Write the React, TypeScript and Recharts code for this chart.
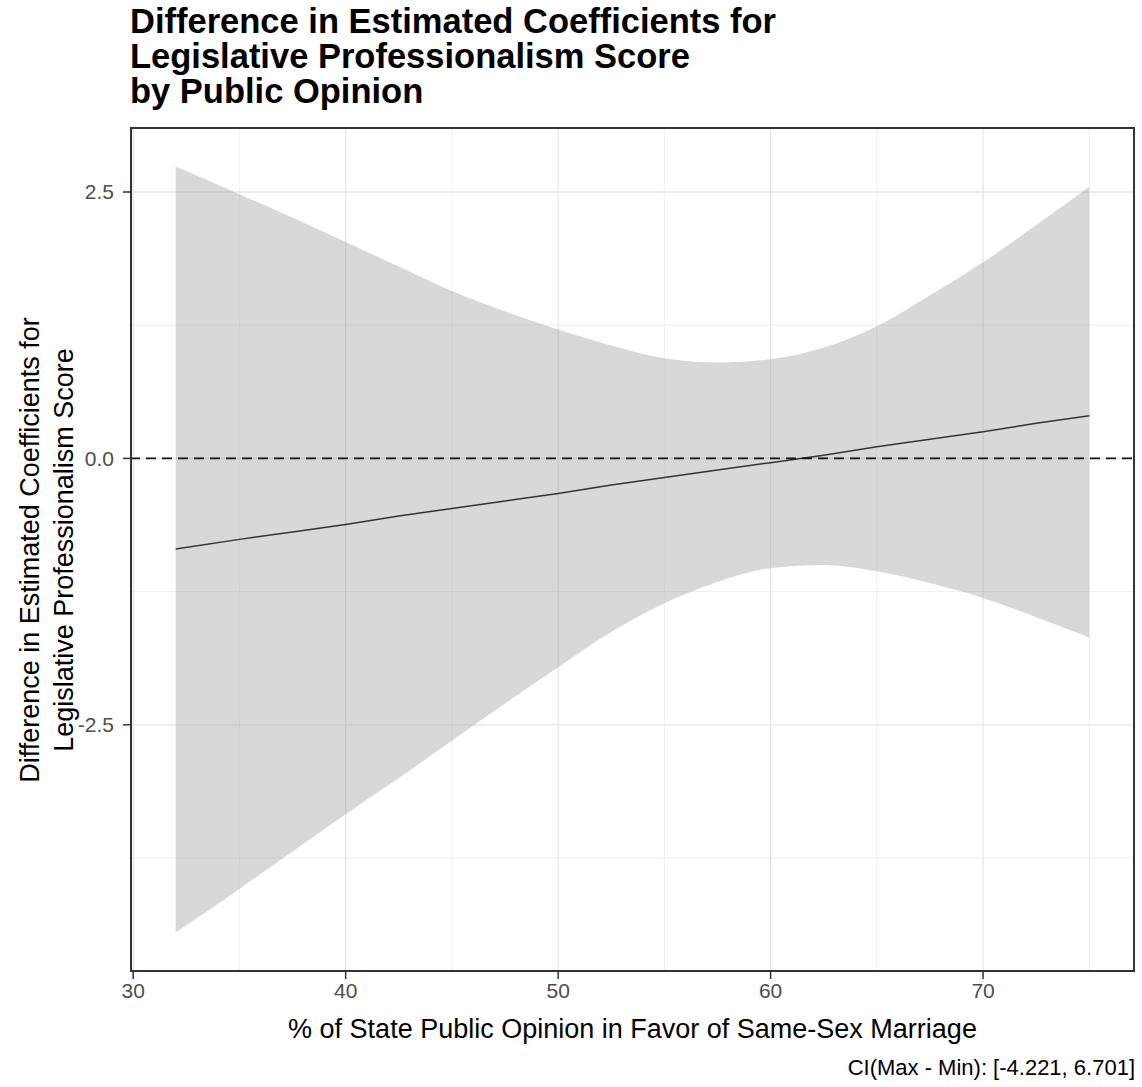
import {
  Area,
  CartesianGrid,
  ComposedChart,
  Line,
  ReferenceLine,
  XAxis,
  YAxis,
} from 'recharts';

// % of state public opinion in favour (x positions)
const opinionPct = [32, 35, 37.5, 40, 42.5, 45, 47.5, 50, 52.5, 55, 57.5, 60, 62.5, 65, 67.5, 70, 72.5, 75];
// upper / lower bound of the confidence ribbon
const upperCI = [2.74, 2.48, 2.26, 2.03, 1.8, 1.57, 1.38, 1.21, 1.06, 0.94, 0.9, 0.93, 1.04, 1.24, 1.53, 1.84, 2.19, 2.55];
const lowerCI = [-4.45, -4.04, -3.69, -3.34, -3.0, -2.65, -2.3, -1.96, -1.63, -1.36, -1.16, -1.03, -1.0, -1.06, -1.17, -1.31, -1.49, -1.68];
// estimated difference in coefficients
const estimate = [-0.85, -0.76, -0.69, -0.62, -0.54, -0.47, -0.4, -0.33, -0.25, -0.18, -0.11, -0.04, 0.03, 0.11, 0.18, 0.25, 0.33, 0.4];

const xMajor = [30, 40, 50, 60, 70];
const xMinor = [35, 45, 55, 65, 75];
const yMajor = [-2.5, 0, 2.5];
const yMinor = [-3.75, -1.25, 1.25];

const titleLines = [
  'Difference in Estimated Coefficients for',
  'Legislative Professionalism Score',
  'by Public Opinion',
];
const yTitleLines = ['Difference in Estimated Coefficients for', 'Legislative Professionalism Score'];
const xTitle = '% of State Public Opinion in Favor of Same-Sex Marriage';
const caption = 'CI(Max - Min): [-4.221, 6.701]';

const W = 1142;
const H = 1087;
const PLOT = { left: 130, right: 1135, top: 127, bottom: 972 };
const FONT = '"Liberation Sans", Arial, sans-serif';

export default function App() {
  const data = opinionPct.map((x, i) => ({
    x,
    band: [lowerCI[i], upperCI[i]],
    fit: estimate[i],
  }));

  const yAxisW = 80;
  const xAxisH = 40;
  const tickStyle = { fill: '#4d4d4d', fontSize: 21, fontFamily: FONT };

  return (
    <div style={{ position: 'absolute', left: 0, top: 0, width: W, height: H, background: '#fff', fontFamily: FONT }}>
      <div style={{ position: 'absolute', left: PLOT.left, top: 4, fontSize: 34.5, fontWeight: 700, lineHeight: '35px', color: '#000', whiteSpace: 'nowrap' }}>
        {titleLines.map((t) => (
          <div key={t}>{t}</div>
        ))}
      </div>

      <ComposedChart
        width={W}
        height={H}
        data={data}
        margin={{ top: PLOT.top, right: W - PLOT.right, left: PLOT.left - yAxisW, bottom: H - PLOT.bottom - xAxisH }}
      >
        <CartesianGrid
          stroke="#ebebeb"
          strokeWidth={0.8}
          horizontalValues={yMinor}
          verticalValues={xMinor}
        />
        <CartesianGrid
          stroke="#e6e6e6"
          strokeWidth={1.3}
          horizontalValues={yMajor}
          verticalValues={xMajor}
        />
        <XAxis
          type="number"
          dataKey="x"
          domain={[29.85, 77.15]}
          ticks={xMajor}
          allowDataOverflow
          height={xAxisH}
          axisLine={false}
          tickLine={{ stroke: '#333', strokeWidth: 1.5 }}
          tickSize={7}
          tickMargin={4}
          tick={tickStyle}
        />
        <YAxis
          type="number"
          domain={[-4.82, 3.11]}
          ticks={yMajor}
          allowDataOverflow
          width={yAxisW}
          axisLine={false}
          tickLine={{ stroke: '#333', strokeWidth: 1.5 }}
          tickSize={7}
          tickMargin={9}
          tickFormatter={(v: number) => v.toFixed(1)}
          tick={tickStyle}
        />
        <Area
          type="monotone"
          dataKey="band"
          stroke="none"
          fill="#999999"
          fillOpacity={0.38}
          isAnimationActive={false}
        />
        <Line
          type="linear"
          dataKey="fit"
          stroke="#333333"
          strokeWidth={1.5}
          dot={false}
          isAnimationActive={false}
        />
        <ReferenceLine y={0} stroke="#111" strokeWidth={1.8} strokeDasharray="10 6" />
      </ComposedChart>

      <div
        style={{
          position: 'absolute',
          left: PLOT.left,
          top: PLOT.top,
          width: PLOT.right - PLOT.left,
          height: PLOT.bottom - PLOT.top,
          border: '2px solid #333',
          boxSizing: 'border-box',
          pointerEvents: 'none',
        }}
      />

      <div style={{ position: 'absolute', left: PLOT.left, width: PLOT.right - PLOT.left, top: 1014, textAlign: 'center', fontSize: 27, lineHeight: '31px', color: '#000', whiteSpace: 'nowrap' }}>
        {xTitle}
      </div>

      <div
        style={{
          position: 'absolute',
          left: 47,
          top: (PLOT.top + PLOT.bottom) / 2,
          width: 0,
          height: 0,
        }}
      >
        <div
          style={{
            position: 'absolute',
            left: 0,
            top: 0,
            transform: 'translate(-50%, -50%) rotate(-90deg)',
            whiteSpace: 'nowrap',
            textAlign: 'center',
            fontSize: 27,
            lineHeight: '34px',
            color: '#000',
          }}
        >
          {yTitleLines.map((t) => (
            <div key={t}>{t}</div>
          ))}
        </div>
      </div>

      <div style={{ position: 'absolute', right: W - PLOT.right, top: 1055, fontSize: 22, lineHeight: '25px', color: '#000', whiteSpace: 'nowrap' }}>{caption}</div>
    </div>
  );
}
